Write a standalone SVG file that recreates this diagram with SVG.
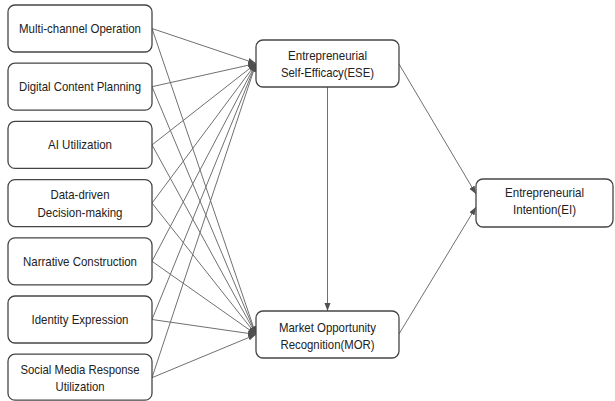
<svg xmlns="http://www.w3.org/2000/svg" width="615" height="401" viewBox="0 0 615 401">
<style>
.box{fill:#fff;stroke:#454545;stroke-width:1.3}
.t{font-family:"Liberation Sans",Arial,sans-serif;font-size:12.8px;fill:#222;text-anchor:middle}
.c{stroke:#707070;stroke-width:1;fill:none;marker-end:url(#ah)}
</style>
<defs>
<marker id="ah" markerUnits="userSpaceOnUse" markerWidth="9" markerHeight="7" refX="8" refY="3" orient="auto">
<path d="M0,0 L8,3 L0,6 z" fill="#505050"/>
</marker>
</defs>
<rect width="615" height="401" fill="#fff"/>
<g id="connectors">
<line class="c" x1="152" y1="28.5" x2="256" y2="63.5"/>
<line class="c" x1="152" y1="28.5" x2="256" y2="334.5"/>
<line class="c" x1="152" y1="86.7" x2="256" y2="63.5"/>
<line class="c" x1="152" y1="86.7" x2="256" y2="334.5"/>
<line class="c" x1="152" y1="144.9" x2="256" y2="63.5"/>
<line class="c" x1="152" y1="144.9" x2="256" y2="334.5"/>
<line class="c" x1="152" y1="203.1" x2="256" y2="63.5"/>
<line class="c" x1="152" y1="203.1" x2="256" y2="334.5"/>
<line class="c" x1="152" y1="261.3" x2="256" y2="63.5"/>
<line class="c" x1="152" y1="261.3" x2="256" y2="334.5"/>
<line class="c" x1="152" y1="319.5" x2="256" y2="63.5"/>
<line class="c" x1="152" y1="319.5" x2="256" y2="334.5"/>
<line class="c" x1="152" y1="377.7" x2="256" y2="63.5"/>
<line class="c" x1="152" y1="377.7" x2="256" y2="334.5"/>
<line class="c" x1="327.5" y1="87" x2="327.5" y2="311"/>
<line class="c" x1="399" y1="64" x2="476" y2="194"/>
<line class="c" x1="399" y1="334" x2="476" y2="207"/>
</g>
<g id="n1"><rect class="box" x="8" y="5" width="144" height="47" rx="7"/><text class="t" x="80" y="33" textLength="122" lengthAdjust="spacingAndGlyphs">Multi-channel Operation</text></g>
<g id="n2"><rect class="box" x="8" y="63.2" width="144" height="47" rx="7"/><text class="t" x="80" y="91.2" textLength="122" lengthAdjust="spacingAndGlyphs">Digital Content Planning</text></g>
<g id="n3"><rect class="box" x="8" y="121.4" width="144" height="47" rx="7"/><text class="t" x="80" y="149.4" textLength="64" lengthAdjust="spacingAndGlyphs">AI Utilization</text></g>
<g id="n4"><rect class="box" x="8" y="179.6" width="144" height="47" rx="7"/><text class="t" x="80" y="199.3" textLength="59" lengthAdjust="spacingAndGlyphs">Data-driven</text><text class="t" x="80" y="216.6" textLength="85" lengthAdjust="spacingAndGlyphs">Decision-making</text></g>
<g id="n5"><rect class="box" x="8" y="237.8" width="144" height="47" rx="7"/><text class="t" x="80" y="265.8" textLength="114" lengthAdjust="spacingAndGlyphs">Narrative Construction</text></g>
<g id="n6"><rect class="box" x="8" y="296" width="144" height="47" rx="7"/><text class="t" x="80" y="324" textLength="97" lengthAdjust="spacingAndGlyphs">Identity Expression</text></g>
<g id="n7"><rect class="box" x="8" y="354.2" width="144" height="46" rx="7"/><text class="t" x="80" y="373.5" textLength="119" lengthAdjust="spacingAndGlyphs">Social Media Response</text><text class="t" x="80" y="390.5" textLength="49" lengthAdjust="spacingAndGlyphs">Utilization</text></g>
<g id="ese"><rect class="box" x="256" y="40" width="143" height="47" rx="7"/><text class="t" x="327.5" y="59.5" textLength="79" lengthAdjust="spacingAndGlyphs">Entrepreneurial</text><text class="t" x="327.5" y="77" textLength="93" lengthAdjust="spacingAndGlyphs">Self-Efficacy(ESE)</text></g>
<g id="mor"><rect class="box" x="256" y="311" width="143" height="47" rx="7"/><text class="t" x="327.5" y="331.5" textLength="97" lengthAdjust="spacingAndGlyphs">Market Opportunity</text><text class="t" x="327.5" y="348.5" textLength="94" lengthAdjust="spacingAndGlyphs">Recognition(MOR)</text></g>
<g id="ei"><rect class="box" x="476" y="179" width="137" height="48" rx="7"/><text class="t" x="544.5" y="197" textLength="79" lengthAdjust="spacingAndGlyphs">Entrepreneurial</text><text class="t" x="544.5" y="214" textLength="63" lengthAdjust="spacingAndGlyphs">Intention(EI)</text></g>
</svg>
